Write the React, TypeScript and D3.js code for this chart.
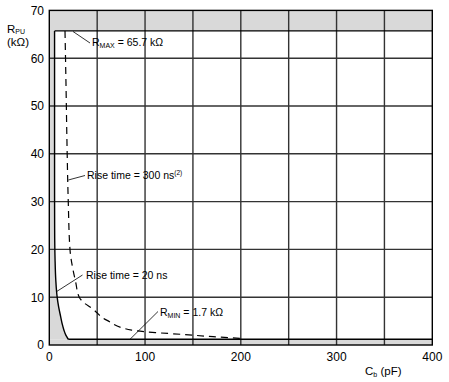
import React from "react";
import * as d3 from "d3";

const W = 449;
const H = 382;

const xTicks = [0, 100, 200, 300, 400];
const xGrid = [50, 100, 150, 200, 250, 300, 350];
const yTicks = [0, 10, 20, 30, 40, 50, 60, 70];

const R_MAX = 65.7;
const R_MIN_LINE = 1.2; // where the RMIN boundary is drawn in the picture
const R_MIN_LABEL = "1.7";

// Rise time = 20 ns curve (Cb pF, Rpu kΩ)
const rise20: [number, number][] = [
  [5.5, 65.7], [5.5, 50], [5.5, 35], [5.6, 24], [6.0, 18], [6.8, 13.5],
  [8.2, 10], [9.8, 7.9], [11.9, 5.9], [13.6, 4.3], [15.3, 3.1], [17.4, 2.0], [19.8, 1.2],
];

// Rise time = 300 ns curve
const rise300: [number, number][] = [
  [16.4, 65.7], [17.4, 55], [18.4, 43], [19.8, 30], [21.6, 20], [24.5, 16],
  [27.5, 13.2], [31.3, 10], [37, 8.7], [44.3, 7.7], [59.9, 5.2], [86, 3.1],
  [111, 2.6], [140, 2.2], [171, 1.74], [199, 1.4],
];

const FONT = "'Liberation Sans', Arial, sans-serif";
const GRAY = "#d9d9d9";

export default function App() {
  const x = d3.scaleLinear().domain([0, 400]).range([49.3, 432.3]);
  const y = d3.scaleLinear().domain([0, 70]).range([345, 10.4]);

  const solidLine = d3
    .line<[number, number]>()
    .x((d) => x(d[0]))
    .y((d) => y(d[1]))
    .curve(d3.curveMonotoneY);

  const dashLine = d3
    .line<[number, number]>()
    .x((d) => x(d[0]))
    .y((d) => y(d[1]))
    .curve(d3.curveMonotoneY);

  const x0 = x(0), x1 = x(400), yTop = y(70), yBot = y(0);
  const lastS = rise20[rise20.length - 1];
  const firstS = rise20[0];

  const solidD = solidLine(rise20) as string;
  const areaD = `${solidD}L${x0},${y(R_MIN_LINE)}L${x0},${y(R_MAX)}Z`;

  return (
    <svg width={W} height={H} style={{ position: "absolute", left: 0, top: 0 }} fontFamily={FONT}>
      <rect width={W} height={H} fill="#fff" />
      {/* shaded zones */}
      <rect x={x0} y={yTop} width={x1 - x0} height={y(R_MAX) - yTop} fill={GRAY} />
      <rect x={x0} y={y(R_MIN_LINE)} width={x1 - x0} height={yBot - y(R_MIN_LINE)} fill={GRAY} />
      <path d={areaD} fill={GRAY} stroke="none" />

      {/* grid */}
      {xGrid.map((v) => (
        <line key={"gx" + v} x1={x(v)} x2={x(v)} y1={yTop} y2={yBot} stroke="#333" strokeWidth={1.4} />
      ))}
      {yTicks.slice(1, -1).map((v) => (
        <line key={"gy" + v} x1={x0} x2={x1} y1={y(v)} y2={y(v)} stroke="#333" strokeWidth={1.4} />
      ))}

      {/* boundaries */}
      <line x1={x(firstS[0])} x2={x1} y1={y(R_MAX)} y2={y(R_MAX)} stroke="#000" strokeWidth={1.3} />
      <line x1={x(lastS[0])} x2={x1} y1={y(R_MIN_LINE)} y2={y(R_MIN_LINE)} stroke="#000" strokeWidth={1.3} />
      <path d={solidD} fill="none" stroke="#000" strokeWidth={1.4} />
      <path d={dashLine(rise300) as string} fill="none" stroke="#000" strokeWidth={1.2} strokeDasharray="7,5" />

      {/* frame */}
      <rect x={x0} y={yTop} width={x1 - x0} height={yBot - yTop} fill="none" stroke="#000" strokeWidth={1.4} />

      {/* tick labels */}
      {xTicks.map((v) => (
        <text key={"tx" + v} x={x(v)} y={361} fontSize={12} textAnchor="middle" fill="#000">{v}</text>
      ))}
      {yTicks.map((v) => (
        <text key={"ty" + v} x={44} y={y(v) + 4.3} fontSize={12} textAnchor="end" fill="#000">{v}</text>
      ))}

      {/* axis titles */}
      <text x={7} y={32.5} fontSize={11.5} fill="#000">
        R<tspan fontSize={7} dy={1.5}>PU</tspan>
      </text>
      <text x={7} y={46} fontSize={11.5} fill="#000">(kΩ)</text>
      <text x={365} y={375} fontSize={11.5} fill="#000">
        C<tspan fontSize={7} dy={1.5}>b</tspan><tspan dy={-1.5}> (pF)</tspan>
      </text>

      {/* annotations */}
      <line x1={73} y1={31.5} x2={90} y2={43} stroke="#000" strokeWidth={0.8} />
      <text x={92} y={46} fontSize={10.5} fill="#000">
        R<tspan fontSize={7} dy={1.5}>MAX</tspan><tspan dy={-1.5}> = {R_MAX} kΩ</tspan>
      </text>

      <line x1={68.3} y1={180} x2={85} y2={175.5} stroke="#000" strokeWidth={0.8} />
      <text x={87} y={179} fontSize={10.5} fill="#000">
        Rise time = 300 ns<tspan fontSize={6.5} dy={-4}>(2)</tspan>
      </text>

      <line x1={56.7} y1={291.5} x2={82.5} y2={275} stroke="#000" strokeWidth={0.8} />
      <text x={86} y={279} fontSize={10.5} fill="#000">Rise time = 20 ns</text>

      <line x1={130} y1={339.3} x2={158} y2={311.5} stroke="#000" strokeWidth={0.8} />
      <text x={160} y={316} fontSize={10.5} fill="#000">
        R<tspan fontSize={7} dy={1.5}>MIN</tspan><tspan dy={-1.5}> = {R_MIN_LABEL} kΩ</tspan>
      </text>
    </svg>
  );
}
